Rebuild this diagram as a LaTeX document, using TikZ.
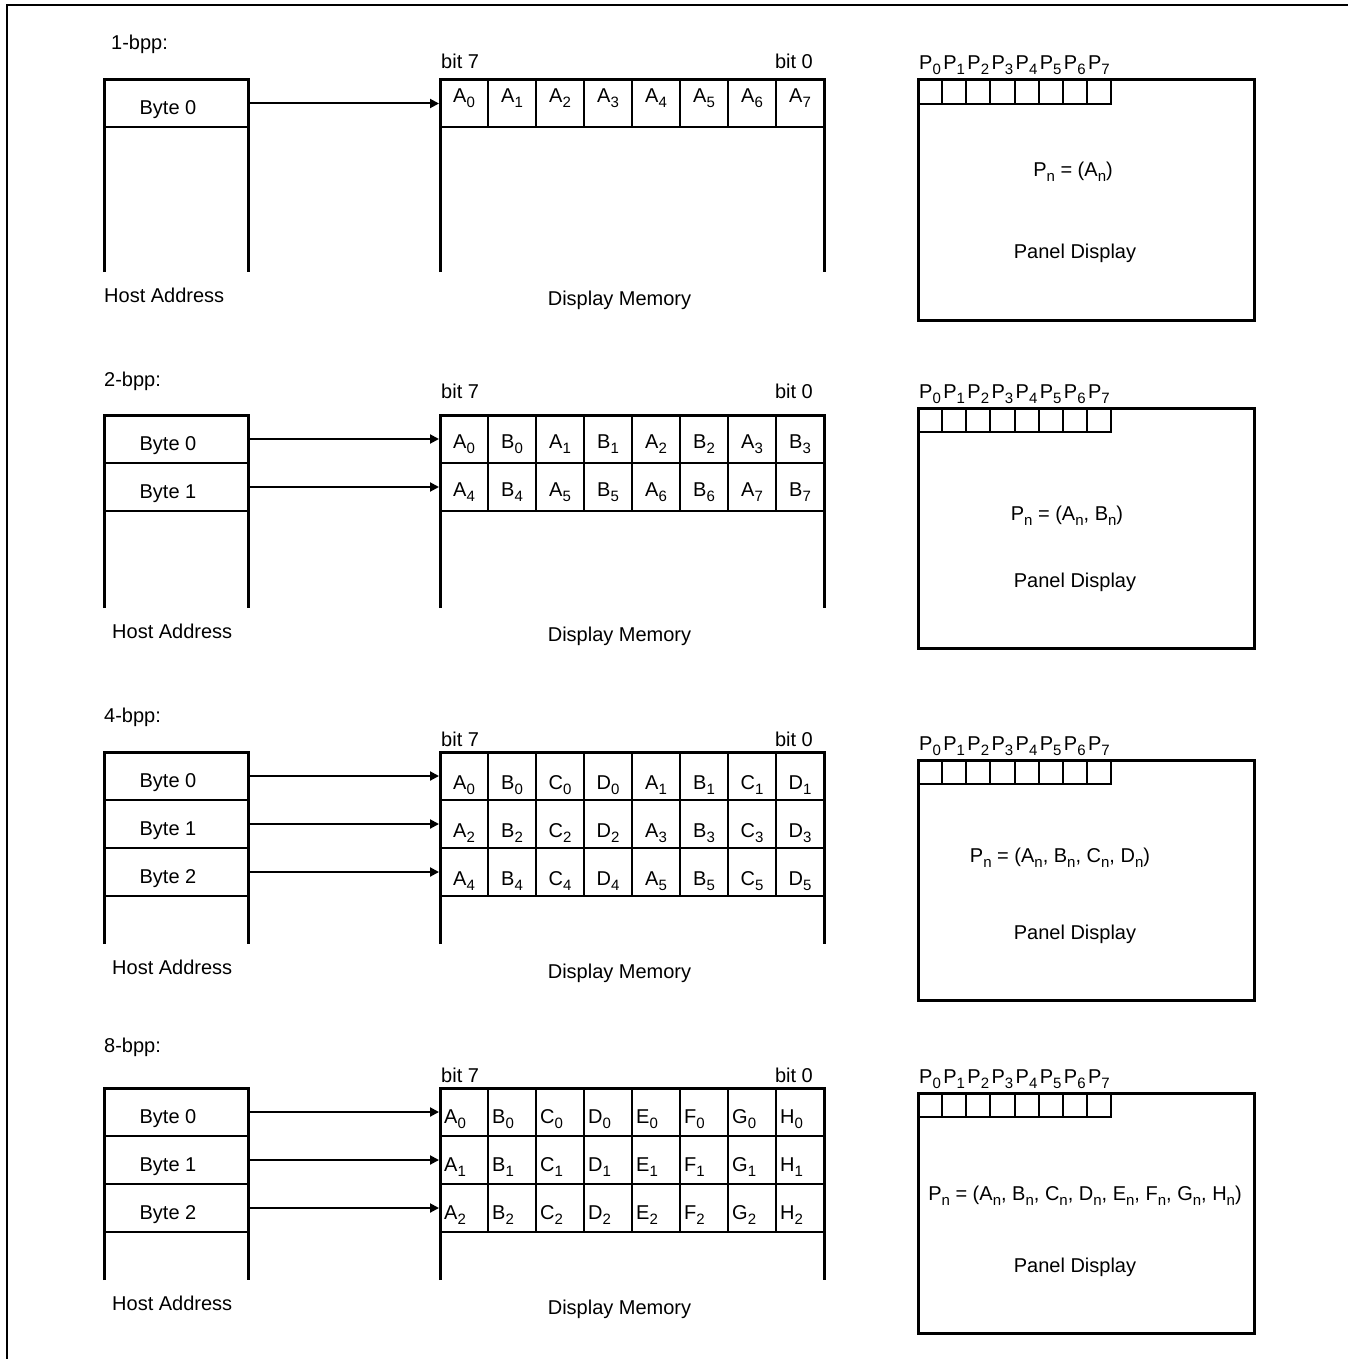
\documentclass[tikz,border=0pt]{standalone}
\usepackage{fontspec}
\setmainfont{Liberation Sans}
\usetikzlibrary{arrows.meta}
\newcommand\sbs[1]{\raisebox{-5pt}{\fontsize{15}{15}\selectfont #1}}
\newcommand\fs{\fontsize{20}{23}\selectfont}
% #1 id, #2 top, #3 rows, #4 bottom
\newcommand\hostbox[4]{%
  \draw[thk] (104,#4) -- (104,#2) -- (248,#2) -- (248,#4);
  \foreach \r in {1,...,#3} {\draw[thn] (104,#2+48*\r) -- (248,#2+48*\r);}
  \foreach \r [evaluate=\r as \rr using int(\r-1)] in {1,...,#3} {%
    \node[txt,anchor=base] (#1-byte\rr) at (168,#2+48*\r-13) {Byte \rr};
    \coordinate (#1-h\rr) at (249,#2+48*\r-24);
    \coordinate (#1-m\rr) at (439,#2+48*\r-24);
    \draw[arr] (#1-h\rr) -- (#1-m\rr);
  }%
}
\newcommand\membox[4]{%
  \draw[thk] (440,#4) -- (440,#2) -- (824,#2) -- (824,#4);
  \foreach \r in {1,...,#3} {\draw[thn] (440,#2+48*\r) -- (824,#2+48*\r);}
  \foreach \k in {1,...,7} {\draw[thn] (440+48*\k,#2) -- (440+48*\k,#2+48*#3);}
}
% #1 id, #2 top
\newcommand\panelbox[2]{%
  \draw[thk] (918,#2) rectangle (1254,#2+240);
  \draw[thn] (918,#2+24) -- (1111,#2+24) -- (1111,#2);
  \foreach \k in {1,...,7} {\draw[thn] (918+24.125*\k,#2) -- (918+24.125*\k,#2+24);}
  \foreach \k in {0,...,7} {\node[txt,anchor=base west] (#1-p\k) at (919+24.125*\k,#2-10) {P\sbs{\k}};}
}
\begin{document}
\begin{tikzpicture}[x=1pt,y=-1pt,
  thk/.style={line width=3pt},
  thn/.style={line width=2pt},
  frm/.style={line width=2pt},
  txt/.style={inner sep=0pt,font=\fs},
  arr/.style={line width=2pt,-{Triangle[length=9pt,width=9pt]}}]
\useasboundingbox (0,0) rectangle (1348,1359);
\draw[frm] (7,1359) -- (7,5.5) -- (1348,5.5);

% ---------------- 1-bpp
\node[txt,anchor=base west] (t1) at (111,50) {1-bpp:};
\hostbox{s1}{79.5}{1}{272}
\membox{s1}{79.5}{1}{272}
\node[txt,anchor=base west] (s1-b7) at (441,69) {bit 7};
\node[txt,anchor=base east] (s1-b0) at (813,69) {bit 0};
\foreach \k in {0,...,7} {\node[txt,anchor=base] (s1-c\k) at (464+48*\k,103) {A\sbs{\k}};}
\node[txt,anchor=base west] (s1-ha) at (104,302) {Host Address};
\node[txt,anchor=base] (s1-dm) at (619.5,305) {Display Memory};
\panelbox{s1}{80}
\node[txt,anchor=base] (s1-pn) at (1073,177) {P\sbs{n} = (A\sbs{n})};
\node[txt,anchor=base] (s1-pd) at (1075,258) {Panel Display};

% ---------------- 2-bpp
\node[txt,anchor=base west] (t2) at (104,386) {2-bpp:};
\hostbox{s2}{415}{2}{608}
\membox{s2}{415}{2}{608}
\node[txt,anchor=base west] (s2-b7) at (441,398) {bit 7};
\node[txt,anchor=base east] (s2-b0) at (813,398) {bit 0};
\foreach \t [count=\k from 0] in {A\sbs0,B\sbs0,A\sbs1,B\sbs1,A\sbs2,B\sbs2,A\sbs3,B\sbs3}
  {\node[txt,anchor=base] (s2-c0\k) at (464+48*\k,448) {\t};}
\foreach \t [count=\k from 0] in {A\sbs4,B\sbs4,A\sbs5,B\sbs5,A\sbs6,B\sbs6,A\sbs7,B\sbs7}
  {\node[txt,anchor=base] (s2-c1\k) at (464+48*\k,496) {\t};}
\node[txt,anchor=base west] (s2-ha) at (112,638) {Host Address};
\node[txt,anchor=base] (s2-dm) at (619.5,641) {Display Memory};
\panelbox{s2}{408}
\node[txt,anchor=base] (s2-pn) at (1067,520) {P\sbs{n} = (A\sbs{n}, B\sbs{n})};
\node[txt,anchor=base] (s2-pd) at (1075,587) {Panel Display};

% ---------------- 4-bpp
\node[txt,anchor=base west] (t3) at (104,722) {4-bpp:};
\hostbox{s3}{752}{3}{944}
\membox{s3}{752}{3}{944}
\node[txt,anchor=base west] (s3-b7) at (441,746) {bit 7};
\node[txt,anchor=base east] (s3-b0) at (813,746) {bit 0};
\foreach \t [count=\k from 0] in {A\sbs0,B\sbs0,C\sbs0,D\sbs0,A\sbs1,B\sbs1,C\sbs1,D\sbs1}
  {\node[txt,anchor=base] (s3-c0\k) at (464+48*\k,789) {\t};}
\foreach \t [count=\k from 0] in {A\sbs2,B\sbs2,C\sbs2,D\sbs2,A\sbs3,B\sbs3,C\sbs3,D\sbs3}
  {\node[txt,anchor=base] (s3-c1\k) at (464+48*\k,837) {\t};}
\foreach \t [count=\k from 0] in {A\sbs4,B\sbs4,C\sbs4,D\sbs4,A\sbs5,B\sbs5,C\sbs5,D\sbs5}
  {\node[txt,anchor=base] (s3-c2\k) at (464+48*\k,885) {\t};}
\node[txt,anchor=base west] (s3-ha) at (112,974) {Host Address};
\node[txt,anchor=base] (s3-dm) at (619.5,978) {Display Memory};
\panelbox{s3}{760}
\node[txt,anchor=base] (s3-pn) at (1060,862) {P\sbs{n} = (A\sbs{n}, B\sbs{n}, C\sbs{n}, D\sbs{n})};
\node[txt,anchor=base] (s3-pd) at (1075,939) {Panel Display};

% ---------------- 8-bpp
\node[txt,anchor=base west] (t4) at (104,1052) {8-bpp:};
\hostbox{s4}{1088}{3}{1280}
\membox{s4}{1088}{3}{1280}
\node[txt,anchor=base west] (s4-b7) at (441,1082) {bit 7};
\node[txt,anchor=base east] (s4-b0) at (813,1082) {bit 0};
\foreach \r in {0,1,2} {
  \foreach \l [count=\k from 0] in {A,B,C,D,E,F,G,H}
    {\node[txt,anchor=base west] (s4-c\r\k) at (444+48*\k,1123+48*\r) {\l\sbs{\r}};}
}
\node[txt,anchor=base west] (s4-ha) at (112,1310) {Host Address};
\node[txt,anchor=base] (s4-dm) at (619.5,1314) {Display Memory};
\panelbox{s4}{1093}
\node[txt,anchor=base] (s4-pn) at (1085,1200) {P\sbs{n} = (A\sbs{n}, B\sbs{n}, C\sbs{n}, D\sbs{n}, E\sbs{n}, F\sbs{n}, G\sbs{n}, H\sbs{n})};
\node[txt,anchor=base] (s4-pd) at (1075,1272) {Panel Display};
\end{tikzpicture}
\end{document}
